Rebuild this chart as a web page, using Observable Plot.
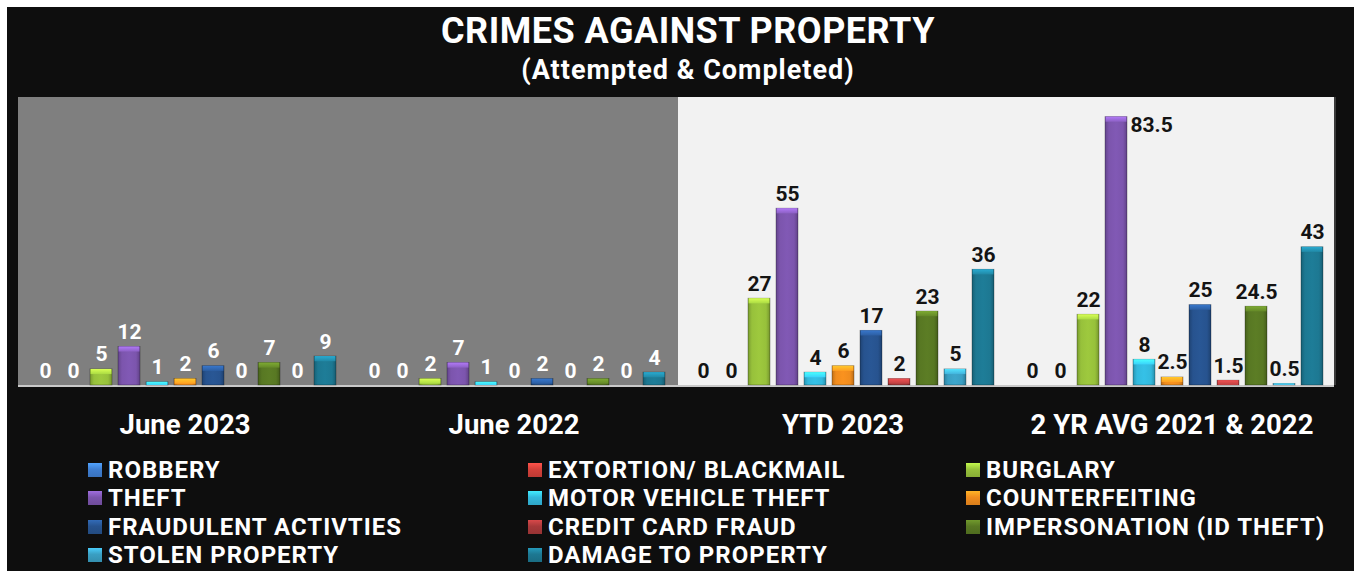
<!DOCTYPE html>
<html>
<head>
<meta charset="utf-8">
<script src="https://cdn.jsdelivr.net/npm/d3@7"></script>
<script src="https://cdn.jsdelivr.net/npm/@observablehq/plot@0.6"></script>
<style>
  html, body { margin: 0; padding: 0; }
  body { background: #ffffff; width: 1354px; height: 571px; overflow: hidden; position: relative;
         font-family: Roboto, "Liberation Sans", "DejaVu Sans", sans-serif; }
  #frame { position: absolute; left: 7px; top: 7px; width: 1347px; height: 564px; background: #0e0e0e; }
  #title { position: absolute; left: 0; width: 1376px; top: 10px; text-align: center; color: #fff;
           font-weight: 700; font-size: 36px; line-height: 42px; letter-spacing: 0.5px; }
  #subtitle { position: absolute; left: 0; width: 1376px; top: 53px; text-align: center; color: #fff;
              font-weight: 700; font-size: 27px; line-height: 34px; letter-spacing: 1px; }
  #panelL { position: absolute; left: 18px; top: 97px; width: 660px; height: 288px; background: #7f7f7f; }
  #panelR { position: absolute; left: 678px; top: 97px; width: 656px; height: 288px; background: #f2f2f2;
            box-shadow: 2px 0 0 #3a3a3a; }
  #baseline { position: absolute; left: 18px; top: 385px; width: 1316px; height: 2px; background: #c9c9c9; }
  #chart { position: absolute; left: 0; top: 97px; }
  #legend { position: absolute; left: 88px; top: 456px; display: grid;
            grid-template-columns: 440px 438px 380px; grid-auto-rows: 28.3px; }
  .item { display: flex; align-items: center; color: #fff; font-weight: 700; font-size: 24px;
          letter-spacing: 1px; white-space: nowrap; }
  .sw { width: 14px; height: 14px; margin-right: 6px; flex: none; }
</style>
</head>
<body>
<div id="frame"></div>
<div id="title">CRIMES AGAINST PROPERTY</div>
<div id="subtitle">(Attempted &amp; Completed)</div>
<div id="panelL"></div>
<div id="panelR"></div>
<div id="baseline"></div>
<div id="chart"></div>
<div id="legend"></div>
<script>
// ---- data ----
const categories = [
  "ROBBERY", "EXTORTION/ BLACKMAIL", "BURGLARY", "THEFT", "MOTOR VEHICLE THEFT",
  "COUNTERFEITING", "FRAUDULENT ACTIVTIES", "CREDIT CARD FRAUD",
  "IMPERSONATION (ID THEFT)", "STOLEN PROPERTY", "DAMAGE TO PROPERTY"
];
const periods = ["June 2023", "June 2022", "YTD 2023", "2 YR AVG 2021 & 2022"];
const june2023 = [0, 0, 5, 12, 1, 2, 6, 0, 7, 0, 9];
const june2022 = [0, 0, 2, 7, 1, 0, 2, 0, 2, 0, 4];
const ytd2023  = [0, 0, 27, 55, 4, 6, 17, 2, 23, 5, 36];
const avg2yr   = [0, 0, 22, 83.5, 8, 2.5, 25, 1.5, 24.5, 0.5, 43];
const colors = [
  "#3f7fd2", "#d4413a", "#97c13b", "#7c55ad", "#33b9dd", "#f08c1e",
  "#27538f", "#a8393a", "#587823", "#3a9fc3", "#1d7892"
];

const series = [june2023, june2022, ytd2023, avg2yr];
const rows = periods.flatMap((p, pi) => categories.map((c, ci) => ({
  period: p, cat: c, pi, ci, value: series[pi][ci]
})));
const fmt = v => String(v);

const H = 288, MB = 62;
const chart = Plot.plot({
  width: 1354,
  height: H + MB,
  marginLeft: 20,
  marginRight: 17,
  marginTop: 0,
  marginBottom: MB,
  style: { background: "transparent", color: "#fff", fontFamily: "Roboto, 'Liberation Sans', sans-serif", overflow: "visible" },
  fx: { domain: periods, paddingInner: 0.0486, paddingOuter: 0.0213, axis: null },
  x: { domain: categories, paddingInner: 0.22, paddingOuter: 0.1, axis: null },
  y: { domain: [0, 89.6], axis: null },
  color: { type: "identity" },
  marks: [
    Plot.barY(rows.filter(d => d.value > 0), {
      fx: "period", x: "cat", y: "value",
      fill: d => `url(#bar${d.ci})`,
      stroke: "rgba(0,0,0,0.35)", strokeWidth: 0.8
    }),
    Plot.barY(rows.filter(d => d.value > 0), {
      fx: "period", x: "cat",
      y1: "value", y2: d => Math.max(0, d.value - 1.6),
      fill: d => `url(#cap${d.ci})`, insetLeft: 0.6, insetRight: 0.6
    }),
    Plot.text(rows.filter(d => d.value < 80), {
      fx: "period", x: "cat", y: "value", text: d => fmt(d.value),
      lineAnchor: "bottom", dy: -8,
      fill: d => d.pi < 2 ? "#ffffff" : "#141414",
      fontSize: 21, fontWeight: "bold"
    }),
    Plot.text(rows.filter(d => d.value >= 80), {
      fx: "period", x: "cat", y: "value", text: d => fmt(d.value),
      lineAnchor: "top", textAnchor: "start", dx: 14, dy: 0,
      fill: d => d.pi < 2 ? "#ffffff" : "#141414",
      fontSize: 21, fontWeight: "bold"
    }),
    Plot.axisFx({ anchor: "bottom", tickSize: 0, tickPadding: 29, fontSize: 27.5, fontWeight: "bold", label: null })
  ]
});

// gradient definitions for the glossy bars
const ns = "http://www.w3.org/2000/svg";
const defs = document.createElementNS(ns, "defs");
colors.forEach((c, i) => {
  const base = d3.color(c);
  const g = document.createElementNS(ns, "linearGradient");
  g.setAttribute("id", "bar" + i);
  g.setAttribute("x1", "0"); g.setAttribute("x2", "1"); g.setAttribute("y1", "0"); g.setAttribute("y2", "0");
  [[0, base.darker(0.6)], [0.18, base], [0.5, base.brighter(0.12)], [0.82, base], [1, base.darker(0.7)]].forEach(([o, col]) => {
    const s = document.createElementNS(ns, "stop");
    s.setAttribute("offset", o); s.setAttribute("stop-color", col.formatHex());
    g.appendChild(s);
  });
  defs.appendChild(g);
  const cg = document.createElementNS(ns, "linearGradient");
  cg.setAttribute("id", "cap" + i);
  cg.setAttribute("x1", "0"); cg.setAttribute("x2", "0"); cg.setAttribute("y1", "0"); cg.setAttribute("y2", "1");
  [[0, base.brighter(1.0)], [1, base.brighter(0.35)]].forEach(([o, col]) => {
    const s = document.createElementNS(ns, "stop");
    s.setAttribute("offset", o); s.setAttribute("stop-color", col.formatHex());
    cg.appendChild(s);
  });
  defs.appendChild(cg);
});
chart.insertBefore(defs, chart.firstChild);
document.getElementById("chart").appendChild(chart);

// legend (row-major, three columns)
const legend = document.getElementById("legend");
categories.forEach((c, i) => {
  const base = d3.color(colors[i]);
  const item = document.createElement("div");
  item.className = "item";
  const sw = document.createElement("span");
  sw.className = "sw";
  sw.style.background = `linear-gradient(to bottom, ${base.brighter(0.7).formatHex()} 0%, ${base.formatHex()} 45%, ${base.darker(0.3).formatHex()} 100%)`;
  const t = document.createElement("span");
  t.textContent = c;
  item.appendChild(sw); item.appendChild(t);
  legend.appendChild(item);
});
</script>
</body>
</html>
